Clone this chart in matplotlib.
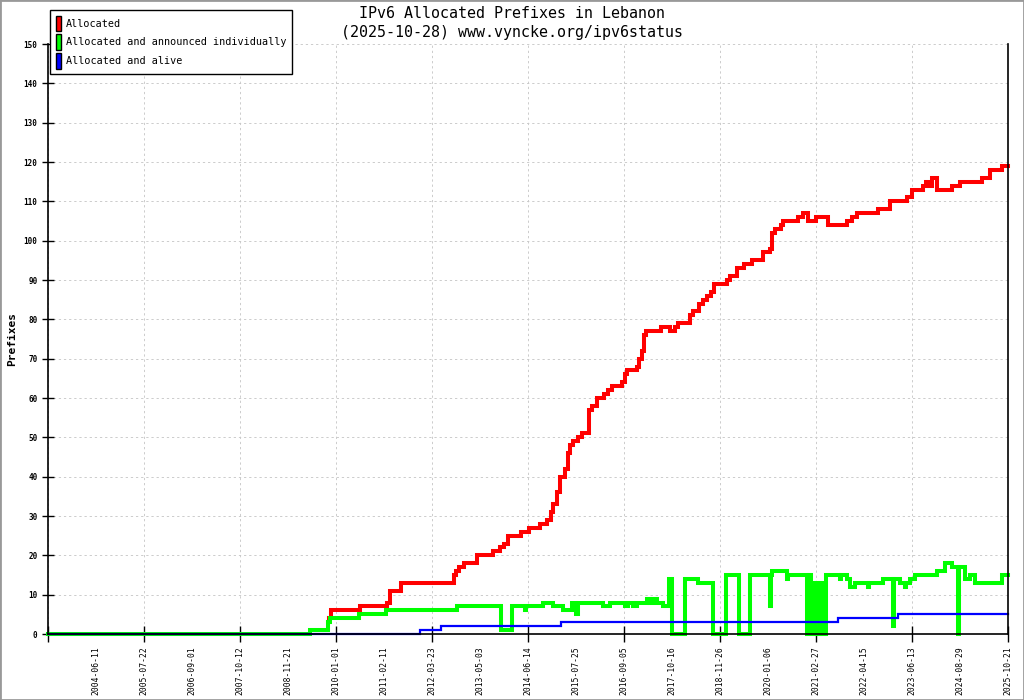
import matplotlib
matplotlib.use("Agg")
import matplotlib.pyplot as plt
from matplotlib.patches import Patch, Rectangle


TITLE = "IPv6 Allocated Prefixes in Lebanon\n(2025-10-28) www.vyncke.org/ipv6status"

# x axis: one unit = one tick step of the original chart (first tick at 0)
X_TICK_LABELS = [
    "", "2004-06-11", "2005-07-22", "2006-09-01", "2007-10-12", "2008-11-21",
    "2010-01-01", "2011-02-11", "2012-03-23", "2013-05-03", "2014-06-14",
    "2015-07-25", "2016-09-05", "2017-10-16", "2018-11-26", "2020-01-06",
    "2021-02-27", "2022-04-15", "2023-06-13", "2024-08-29", "2025-10-21",
]

# step series: value holds from x[i] until x[i+1]
ALLOC_X = [
    5.83, 5.85, 5.90, 6.50, 7.06, 7.13, 7.35, 8.46, 8.50, 8.56, 8.67,
    8.94, 9.27, 9.42, 9.50, 9.58, 9.85, 10.02, 10.25, 10.40, 10.48, 10.52,
    10.60, 10.67, 10.77, 10.83, 10.88, 10.94, 11.04, 11.13, 11.27, 11.33,
    11.44, 11.58, 11.67, 11.75, 11.96, 12.02, 12.06, 12.27, 12.31, 12.38,
    12.42, 12.46, 12.77, 12.96, 13.06, 13.13, 13.38, 13.44, 13.56, 13.65,
    13.73, 13.81, 13.88, 14.15, 14.21, 14.35, 14.50, 14.67, 14.90, 15.04,
    15.08, 15.15, 15.27, 15.31, 15.63, 15.73, 15.83, 16.00, 16.25, 16.65,
    16.75, 16.85, 17.29, 17.54, 17.90, 18.00, 18.23, 18.29, 18.38, 18.42,
    18.52, 18.83, 19.00, 19.46, 19.63, 19.88, 20.0,
]
ALLOC_Y = [
    3, 4, 6, 7, 8, 11, 13, 15, 16, 17, 18,
    20, 21, 22, 23, 25, 26, 27, 28, 29, 31, 33,
    36, 40, 42, 46, 48, 49, 50, 51, 57, 58,
    60, 61, 62, 63, 64, 66, 67, 68, 70, 72,
    76, 77, 78, 77, 78, 79, 81, 82, 84, 85,
    86, 87, 89, 90, 91, 93, 94, 95, 97, 98,
    102, 103, 104, 105, 106, 107, 105, 106, 104, 105,
    106, 107, 108, 110, 111, 113, 114, 115, 114, 116,
    113, 114, 115, 116, 118, 119, 119,
]

ANNOUNCED_X = [
    0, 5.46, 5.83, 5.88, 6.48, 7.04, 8.52, 9.44, 9.67, 9.94, 9.96, 10.31,
    10.52, 10.73, 10.92, 11.00, 11.04, 11.56, 11.71, 12.02, 12.08, 12.19,
    12.27, 12.48, 12.54, 12.60, 12.69, 12.81, 12.94, 13.00, 13.27, 13.54,
    13.85, 14.13, 14.40, 14.63, 15.04, 15.06, 15.08, 15.40, 15.42, 15.81,
    15.85, 15.90, 15.94, 15.98, 16.02, 16.04, 16.08, 16.13, 16.21, 16.50,
    16.52, 16.65, 16.71, 16.81, 17.08, 17.10, 17.40, 17.60, 17.63, 17.75,
    17.85, 17.88, 17.96, 18.06, 18.52, 18.69, 18.83, 18.96, 18.98, 19.10,
    19.21, 19.31, 19.88, 20.0,
]
ANNOUNCED_Y = [
    0, 1, 3, 4, 5, 6, 7, 1, 7, 6, 7, 8,
    7, 6, 8, 5, 8, 7, 8, 7, 8, 7,
    8, 9, 8, 9, 8, 7, 14, 0, 14, 13,
    0, 15, 0, 15, 7, 15, 16, 14, 15, 0,
    15, 0, 13, 0, 13, 0, 13, 0, 15, 14,
    15, 14, 12, 13, 12, 13, 14, 2, 14, 13,
    12, 13, 14, 15, 16, 18, 17, 0, 17, 14,
    15, 13, 15, 15,
]

ALIVE_X = [0, 7.75, 8.19, 10.69, 16.46, 17.71, 20.0]
ALIVE_Y = [0, 1, 2, 3, 4, 5, 5]

SERIES = [
    ("Allocated", ALLOC_X, ALLOC_Y, "#ff0000", 2.9),
    ("Allocated and announced individually", ANNOUNCED_X, ANNOUNCED_Y, "#00ff00", 2.9),
    ("Allocated and alive", ALIVE_X, ALIVE_Y, "#0000ff", 1.6),
]

MONO = "DejaVu Sans Mono"


def main():
    plt.rcParams["font.family"] = MONO
    fig = plt.figure(figsize=(10.24, 7.0), dpi=100)
    ax = fig.add_axes([48 / 1024, 1 - 634 / 700, 960 / 1024, 590 / 700])

    for label, xs, ys, color, lw in SERIES:
        ax.plot(xs, ys, drawstyle="steps-post", color=color, lw=lw,
                solid_joinstyle="miter", clip_on=False, label=label)

    ax.set_xlim(0, 20)
    ax.set_ylim(0, 150)

    ax.set_yticks(range(0, 151, 10))
    ax.set_yticklabels([str(v) for v in range(0, 151, 10)],
                       fontsize=5.5, fontweight="bold")
    ax.tick_params(axis="y", direction="inout", length=9, width=1, pad=3)

    ax.set_xticks(range(0, 21, 2))
    ax.set_xticklabels(X_TICK_LABELS[0::2], rotation=90, fontsize=5.8)
    ax.set_xticks(range(1, 21, 2), minor=True)
    ax.set_xticklabels(X_TICK_LABELS[1::2], minor=True, rotation=90, fontsize=5.8)
    ax.tick_params(axis="x", which="major", direction="inout", length=12, width=1, pad=3)
    ax.tick_params(axis="x", which="minor", length=0, pad=9)

    ax.grid(True, which="major", color="#c8c8c8", lw=0.65, ls=(0, (2.5, 3.2)))
    ax.spines["top"].set_visible(False)
    for side in ("left", "bottom", "right"):
        ax.spines[side].set_linewidth(1.2)

    ax.set_ylabel("Prefixes", fontsize=8, fontweight="bold")
    ax.yaxis.set_label_coords(-31 / 960, 0.5)

    fig.text(0.5, 1 - 6 / 700, TITLE, ha="center", va="top",
             fontsize=10.8, linespacing=1.3)

    handles = [Patch(facecolor=c, edgecolor="black", lw=1) for _, _, _, c, _ in SERIES]
    leg = fig.legend(handles, [s[0] for s in SERIES], loc="upper left",
                     bbox_to_anchor=(50 / 1024, 1 - 10 / 700), fontsize=7.3,
                     handlelength=0.55, handleheight=2.0, handletextpad=0.5,
                     labelspacing=0.3, borderpad=0.55, borderaxespad=0,
                     fancybox=False, framealpha=1, edgecolor="black")
    leg.get_frame().set_linewidth(1)

    fig.patches.append(Rectangle((0, 0), 1, 1, transform=fig.transFigure,
                                 fill=False, edgecolor="#999999", lw=2))

    fig.savefig("out.png", dpi=100)


if __name__ == "__main__":
    main()
